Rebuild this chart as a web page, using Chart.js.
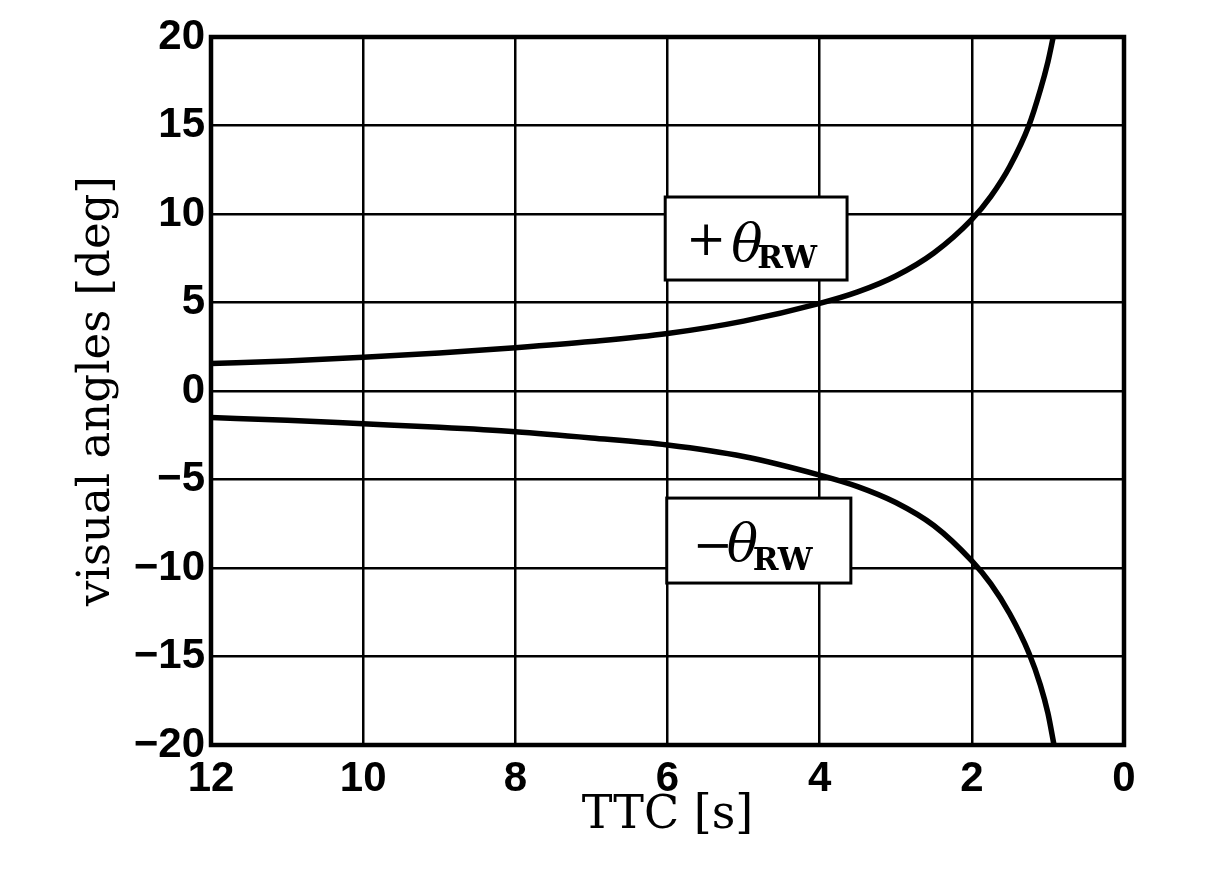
<!DOCTYPE html>
<html><head><meta charset="utf-8">
<script src="https://cdn.jsdelivr.net/npm/chart.js@4/dist/chart.umd.min.js"></script>
<style>html,body{margin:0;padding:0;background:#fff;overflow:hidden}canvas{display:block}</style>
</head><body>
<canvas id="c" width="1232" height="884"></canvas>
<script>
// ---- data ----
const ttcTicks = [12, 10, 8, 6, 4, 2, 0];
const angleTicks = [-20, -15, -10, -5, 0, 5, 10, 15, 20];
const ttcPlus   = [12, 11, 10, 9, 8, 7, 6, 5, 4, 3.5, 3, 2.5, 2, 1.75, 1.5, 1.25, 1.1, 1.0, 0.93];
const thetaPlus = [1.55, 1.7, 1.9, 2.15, 2.45, 2.8, 3.25, 3.95, 4.95, 5.6, 6.5, 7.8, 9.7, 11.0, 12.7, 15.0, 17.0, 18.6, 20];
const ttcMinus   = [12, 11, 10, 9, 8, 7, 6, 5, 4, 3.5, 3, 2.5, 2, 1.75, 1.5, 1.25, 1.1, 1.0, 0.92];
const thetaMinus = [-1.5, -1.65, -1.85, -2.05, -2.3, -2.65, -3.05, -3.7, -4.75, -5.4, -6.3, -7.6, -9.6, -10.9, -12.6, -14.8, -16.6, -18.2, -20];
const seriesSigns = ['+', '\u2212'];
const seriesSymbol = '\u03b8';
const seriesSub = 'RW';
const xTitle = 'TTC [s]';
const yTitle = 'visual angles [deg]';

function pts(xs, ys) { return xs.map((x, i) => ({x: x, y: ys[i]})); }
function fmt(v) { return v < 0 ? '\u2212' + Math.abs(v) : String(v); }

// annotation boxes (positions in data units of the axes)
const boxes = [
  {x0: 6.03, x1: 3.64, y0: 10.96, y1: 6.27, sign: seriesSigns[0], signDx: 41, signDy: 46, thDx: 66, thDy: 64, subDx: 92, subDy: 71},
  {x0: 6.01, x1: 3.59, y0: -6.05, y1: -10.85, sign: seriesSigns[1], signDx: 46, signDy: 50, thDx: 60, thDy: 63, subDx: 86, subDy: 72}
];

const decor = {
  id: 'decor',
  afterDatasetsDraw(chart) {
    const {ctx, chartArea: a, scales: {x, y}} = chart;
    ctx.save();
    ctx.strokeStyle = '#000';
    ctx.lineWidth = 4.5;
    ctx.strokeRect(a.left, a.top, a.right - a.left, a.bottom - a.top);
    boxes.forEach(b => {
      const l = x.getPixelForValue(b.x0), r = x.getPixelForValue(b.x1);
      const t = y.getPixelForValue(b.y0), bt = y.getPixelForValue(b.y1);
      ctx.fillStyle = '#fff';
      ctx.fillRect(l, t, r - l, bt - t);
      ctx.lineWidth = 3;
      ctx.strokeStyle = '#000';
      ctx.strokeRect(l, t, r - l, bt - t);
      ctx.fillStyle = '#000';
      ctx.textAlign = 'center';
      ctx.textBaseline = 'middle';
      ctx.font = '48px "DejaVu Serif"';
      ctx.fillText(b.sign, l + b.signDx, t + b.signDy);
      ctx.textAlign = 'left';
      ctx.textBaseline = 'alphabetic';
      ctx.font = 'italic 52px "DejaVu Serif"';
      ctx.fillText(seriesSymbol, l + b.thDx, t + b.thDy);
      ctx.font = 'bold 31px "DejaVu Serif"';
      ctx.fillText(seriesSub, l + b.subDx, t + b.subDy);
    });
    ctx.restore();
  }
};

const lineStyle = {borderColor: '#000', borderWidth: 5.5, pointRadius: 0, fill: false, cubicInterpolationMode: 'monotone'};

new Chart(document.getElementById('c'), {
  type: 'line',
  data: {
    datasets: [
      Object.assign({label: '+' + seriesSymbol + seriesSub, data: pts(ttcPlus, thetaPlus)}, lineStyle),
      Object.assign({label: '\u2212' + seriesSymbol + seriesSub, data: pts(ttcMinus, thetaMinus)}, lineStyle)
    ]
  },
  options: {
    responsive: false,
    animation: false,
    devicePixelRatio: 1,
    layout: {padding: {top: 37, right: 108, bottom: 0, left: 0}},
    plugins: {legend: {display: false}, tooltip: {enabled: false}},
    scales: {
      x: {
        type: 'linear', min: 0, max: 12, reverse: true,
        afterBuildTicks: s => { s.ticks = ttcTicks.map(v => ({value: v})); },
        afterFit: s => { s.height = 139; },
        grid: {color: '#000', lineWidth: 2.5, drawTicks: false},
        border: {display: false},
        ticks: {color: '#000', padding: 9, maxRotation: 0, font: {family: '"Liberation Sans"', weight: 'bold', size: 42}, callback: v => fmt(v)},
        title: {display: true, text: xTitle, color: '#000', font: {family: '"DejaVu Serif"', size: 46}, padding: {top: 0, bottom: 40}}
      },
      y: {
        type: 'linear', min: -20, max: 20,
        afterBuildTicks: s => { s.ticks = angleTicks.map(v => ({value: v})); },
        afterFit: s => { s.width = 211; },
        grid: {color: '#000', lineWidth: 2.5, drawTicks: false},
        border: {display: false},
        ticks: {color: '#000', padding: 6, font: {family: '"Liberation Sans"', weight: 'bold', size: 42}, callback: v => fmt(v)},
        title: {display: true, text: yTitle, color: '#000', font: {family: '"DejaVu Serif"', size: 45}, padding: {top: 70, bottom: 0}}
      }
    }
  },
  plugins: [decor]
});
</script>
</body></html>
